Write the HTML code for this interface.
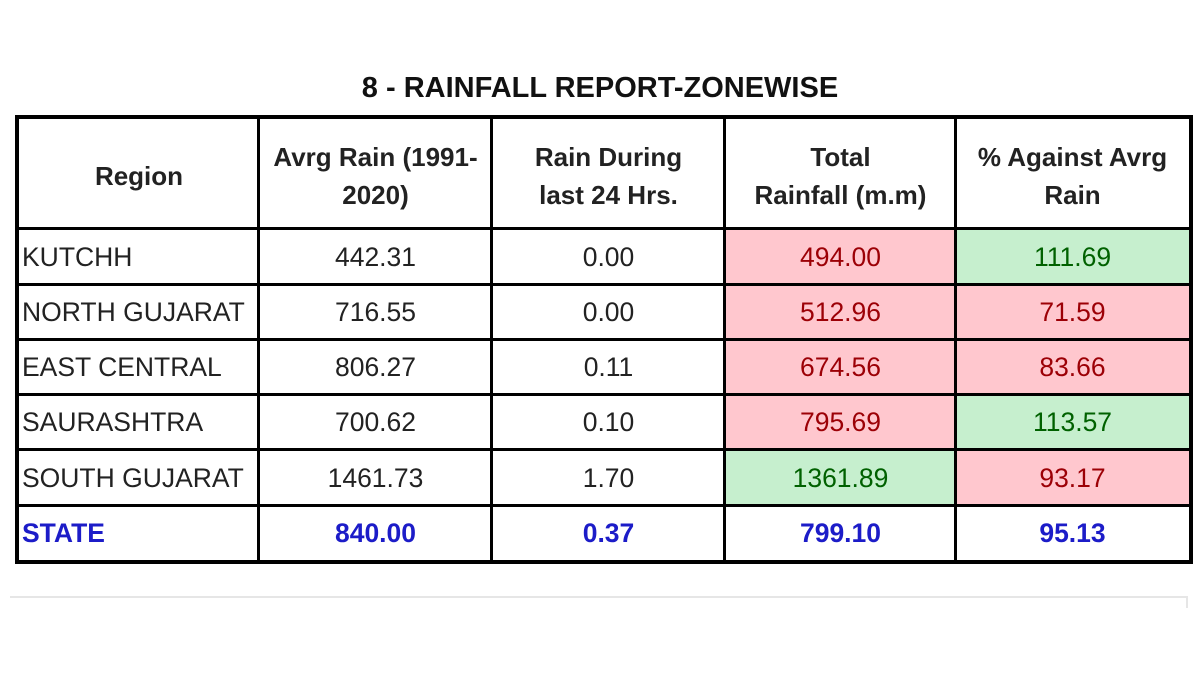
<!DOCTYPE html>
<html><head><meta charset="utf-8"><style>
body{margin:0;width:1200px;height:700px;background:#fff;position:relative;overflow:hidden;font-family:"Liberation Sans",sans-serif}
.t{position:absolute;left:0;width:1200px;top:72px;text-align:center;font-weight:bold;font-size:29px;color:#111}
.box{position:absolute;left:15px;top:115px;width:1170px;height:441px;border:4px solid #000;}
.vl{position:absolute;top:115px;height:449px;width:3px;background:#000}
.hl{position:absolute;left:15px;width:1178px;height:3px;background:#000}
.c{position:absolute;display:flex;align-items:center;justify-content:center;text-align:center;font-size:26.5px;color:#222;box-sizing:border-box;white-space:nowrap;overflow:hidden}
.h{font-weight:bold;line-height:38px;font-size:26px;padding-top:4px}
.l{justify-content:flex-start;padding-left:3px}
.p{background:#ffc7ce;color:#9c0006}.g{background:#c6efce;color:#006100}
.s{color:#1c1cc8;font-weight:bold}
</style></head><body>
<div class="t">8 - RAINFALL REPORT-ZONEWISE</div>
<div id="cells"></div>
<div class="box"></div>
<div id="lines"></div>
<div style="position:absolute;left:10px;top:596px;width:1178px;height:2px;background:#e6e6e6"></div>
<div style="position:absolute;left:1186px;top:596px;width:2px;height:12px;background:#e6e6e6"></div>
<script>
const colX=[19,259,492,725,956,1189];
const rowY=[119,229,285,340,395,450,506,560];
const headers=["Region","Avrg Rain (1991-<br>2020)","Rain During<br>last 24 Hrs.","Total<br>Rainfall (m.m)","% Against Avrg<br>Rain"];
const regions=["KUTCHH","NORTH GUJARAT","EAST CENTRAL","SAURASHTRA","SOUTH GUJARAT","STATE"];
const avgRain=["442.31","716.55","806.27","700.62","1461.73","840.00"];
const last24=["0.00","0.00","0.11","0.10","1.70","0.37"];
const total=["494.00","512.96","674.56","795.69","1361.89","799.10"];
const pct=["111.69","71.59","83.66","113.57","93.17","95.13"];
const totalCls=["p","p","p","p","g",""];
const pctCls=["g","p","p","g","p",""];
const cells=document.getElementById('cells');
function cell(c,r,html,cls,name){
  const d=document.createElement('div');
  d.className='c '+cls;
  d.style.left=colX[c]+'px';d.style.top=rowY[r]+'px';
  d.style.width=(colX[c+1]-colX[c])+'px';d.style.height=(rowY[r+1]-rowY[r])+'px';
  d.innerHTML=html;
  
  
  cells.appendChild(d);
}
headers.forEach((h,i)=>cell(i,0,h,'h','header-cell'));
regions.forEach((r,i)=>{
  const st=i===5?' s':'';
  cell(0,i+1,r,'l'+st,'region-cell');
  cell(1,i+1,avgRain[i],st,'avg-rain-cell');
  cell(2,i+1,last24[i],st,'last-24h-cell');
  cell(3,i+1,total[i],totalCls[i]+st,'total-rainfall-cell');
  cell(4,i+1,pct[i],pctCls[i]+st,'pct-against-avg-cell');
});
const lines=document.getElementById('lines');
[257,490,723,954].forEach(x=>{const d=document.createElement('div');d.className='vl';d.style.left=x+'px';


lines.appendChild(d);});
[227,283,338,393,448,504].forEach(y=>{const d=document.createElement('div');d.className='hl';d.style.top=y+'px';


lines.appendChild(d);});
</script>
</body></html>
